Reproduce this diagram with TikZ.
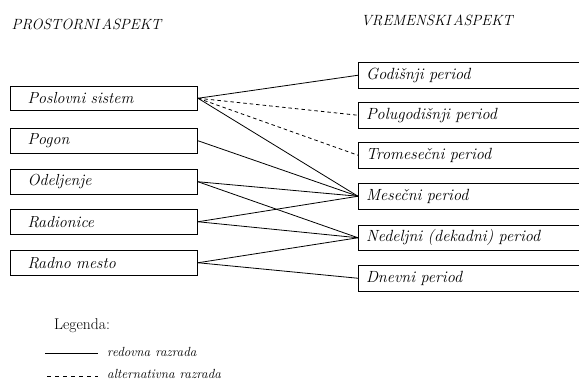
\documentclass[tikz,border=0pt]{standalone}
\begin{document}
\begin{tikzpicture}[x=1pt,y=-1pt,
  conn/.style={line width=0.8pt},
  altconn/.style={line width=0.8pt, dash pattern=on 3.5pt off 3pt},
  lbox/.style={draw, line width=1pt, anchor=north west, minimum height=24.5pt,
    inner xsep=17pt, inner ysep=0pt, text width=153pt, align=left,
    font=\fontsize{16}{18}\selectfont\itshape},
  rbox/.style={draw, line width=1pt, anchor=north west, minimum height=25.5pt,
    inner xsep=7.5pt, inner ysep=0pt, text width=240pt, align=left,
    font=\fontsize{16.2}{18}\selectfont\itshape},
  head/.style={font=\fontsize{14.8}{16}\selectfont\itshape, inner sep=0pt},
  legtext/.style={font=\fontsize{13.2}{15}\selectfont\itshape, anchor=west, inner sep=0pt}]
\path[use as bounding box, clip] (0,0) rectangle (579,381);
\fill[white] (0,0) rectangle (579,381);
% headers
\node[head] (h1) at (86.5,24) {PROSTORNI\hspace{2pt}ASPEKT};
\node[head] (h2) at (437,20) {VREMENSKI\hspace{2pt}ASPEKT};
% left boxes
\node[lbox] (ps) at (10,85.5) {Poslovni sistem};
\node[lbox] (pg) at (10,128) {Pogon};
\node[lbox] (od) at (10,169) {Odeljenje};
\node[lbox] (ra) at (10,209) {Radionice};
\node[lbox] (rm) at (10,250) {Radno mesto};
% right boxes
\node[rbox] (go) at (358,62) {Godišnji period};
\node[rbox] (pl) at (358,102) {Polugodišnji period};
\node[rbox] (tr) at (358,142) {Tromesečni period};
\node[rbox] (me) at (358,183) {Mesečni period};
\node[rbox] (ne) at (358,224.5) {Nedeljni (dekadni) period};
\node[rbox] (dn) at (358,265) {Dnevni period};
% connectors
\draw[conn] (ps.east) -- (go.west);
\draw[altconn] (ps.east) -- (pl.west);
\draw[altconn] (ps.east) -- (tr.west);
\draw[conn] (ps.east) -- (me.west);
\draw[conn] (pg.east) -- (me.west);
\draw[conn] (od.east) -- (me.west);
\draw[conn] (od.east) -- (ne.west);
\draw[conn] (ra.east) -- (me.west);
\draw[conn] (ra.east) -- (ne.west);
\draw[conn] (rm.east) -- (ne.west);
\draw[conn] (rm.east) -- (dn.west);
% legend
\node[font=\fontsize{15.6}{18}\selectfont, inner sep=0pt] (leg) at (82,326) {Legenda:};
\coordinate (l1a) at (45,353);
\coordinate (l1b) at (98,353);
\coordinate (l2a) at (47,376);
\coordinate (l2b) at (98,376);
\draw[conn] (l1a) -- (l1b);
\draw[line width=0.8pt, dash pattern=on 4pt off 4pt] (l2a) -- (l2b);
\node[legtext] (lt1) at (107,351.5) {redovna\hspace{5pt}razrada};
\node[legtext] (lt2) at (107,373.5) {alternativna\hspace{5pt}razrada};
\end{tikzpicture}
\end{document}
